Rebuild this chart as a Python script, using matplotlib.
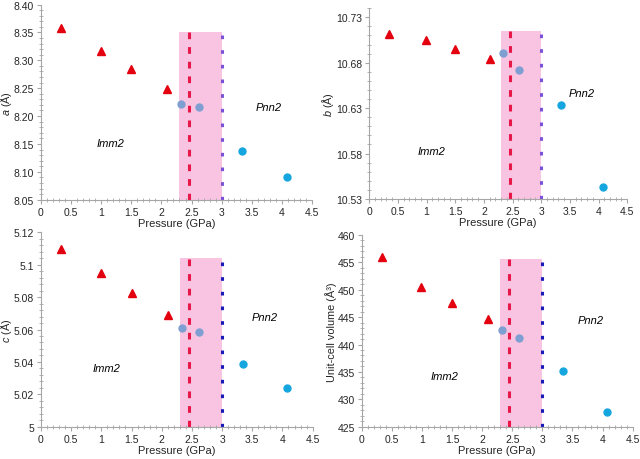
import matplotlib
matplotlib.use("Agg")
import matplotlib.pyplot as plt
from matplotlib.ticker import MultipleLocator, AutoMinorLocator, FormatStrFormatter, FuncFormatter

plt.rcParams['font.family'] = ['Liberation Sans', 'DejaVu Sans']
plt.rcParams['mathtext.fontset'] = 'custom'
plt.rcParams['mathtext.rm'] = 'Liberation Sans'
plt.rcParams['mathtext.it'] = 'Liberation Sans:italic'

# ---- data ----
p_imm = [0.34, 0.99, 1.50, 2.10]
p_mix = [2.33, 2.62]
p_pnn = [3.34, 4.08]

a_imm = [8.357, 8.317, 8.284, 8.249]
a_mix = [8.221, 8.217]
a_pnn = [8.137, 8.091]

b_imm = [10.712, 10.705, 10.695, 10.684]
b_mix = [10.691, 10.672]
b_pnn = [10.633, 10.543]

c_imm = [5.110, 5.0947, 5.0823, 5.069]
c_mix = [5.0607, 5.0583]
c_pnn = [5.0389, 5.0236]

v_imm = [455.9, 450.5, 447.6, 444.6]
v_mix = [442.7, 441.2]
v_pnn = [435.1, 427.7]

span_x = [2.30, 3.00]
line_red_x = 2.45
line_blue_x = 3.00

ylabels = [r"$\it{a}$ (Å)", r"$\it{b}$ (Å)", r"$\it{c}$ (Å)", "Unit-cell volume (Å³)"]
ylims = [(8.05, 8.40), (10.53, 10.74), (5.00, 5.12), (425, 460)]
yticks = [
    [8.05, 8.10, 8.15, 8.20, 8.25, 8.30, 8.35, 8.40],
    [10.53, 10.58, 10.63, 10.68, 10.73],
    [5.00, 5.02, 5.04, 5.06, 5.08, 5.10, 5.12],
    [425, 430, 435, 440, 445, 450, 455, 460],
]
span_tops = [8.35, 10.715, 5.104, 455.7]
imm_pos = [(1.16, 8.151), (1.09, 10.583), (1.09, 5.036), (1.38, 434.3)]
pnn_pos = [(3.78, 8.217), (3.71, 10.647), (3.70, 5.068), (3.80, 444.4)]
blue_cols = ['#7b52d6', '#7b52d6', '#1a1ab8', '#1a1ab8']

xticks = [0, 0.5, 1, 1.5, 2, 2.5, 3, 3.5, 4, 4.5]

fig = plt.figure(figsize=(6.4, 4.6), dpi=100)
rects = [
    [0.064, 0.5637, 0.4235, 0.4243],
    [0.577, 0.5652, 0.403, 0.4148],
    [0.064, 0.0702, 0.4245, 0.4226],
    [0.565, 0.0702, 0.4236, 0.4168],
]
yfmt = [
    FormatStrFormatter('%.2f'),
    FormatStrFormatter('%.2f'),
    FuncFormatter(lambda v, p: ('%.2f' % v).rstrip('0').rstrip('.')),
    FormatStrFormatter('%d'),
]
series = [
    (a_imm, a_mix, a_pnn),
    (b_imm, b_mix, b_pnn),
    (c_imm, c_mix, c_pnn),
    (v_imm, v_mix, v_pnn),
]

for i, r in enumerate(rects):
    ax = fig.add_axes(r)
    yi, ym, yp = series[i]
    lo, hi = ylims[i]
    ax.fill_between(span_x, lo, span_tops[i], color='#f9c4e1', linewidth=0, zorder=1)
    ax.vlines(line_red_x, lo, span_tops[i], colors='#e8174a', linewidth=2.2,
              linestyles=(0, (2.2, 2.6)), zorder=2)
    ax.vlines(line_blue_x, lo, span_tops[i], colors=blue_cols[i], linewidth=2.2,
              linestyles=(0, (1.2, 3.6)), zorder=2)
    ax.plot(p_imm, yi, linestyle='none', marker='^', color='#e3000f', markersize=5.2, zorder=3)
    ax.plot(p_mix, ym, linestyle='none', marker='o', color='#7f9fd2', markersize=5, zorder=3)
    ax.plot(p_pnn, yp, linestyle='none', marker='o', color='#16a6df', markersize=5, zorder=3)
    ax.text(*imm_pos[i], 'Imm2', style='italic', fontsize=8, ha='center', va='center')
    ax.text(*pnn_pos[i], 'Pnn2', style='italic', fontsize=8, ha='center', va='center')

    ax.set_xlim(0, 4.5)
    ax.set_ylim(lo, hi)
    ax.set_xticks(xticks)
    ax.set_xticklabels(['0', '0.5', '1', '1.5', '2', '2.5', '3', '3.5', '4', '4.5'])
    ax.set_yticks(yticks[i])
    ax.yaxis.set_major_formatter(yfmt[i])
    ax.xaxis.set_minor_locator(MultipleLocator(0.1))
    ax.yaxis.set_minor_locator(AutoMinorLocator(5))
    for s in ['top', 'right']:
        ax.spines[s].set_visible(False)
    for s in ['left', 'bottom']:
        ax.spines[s].set_color('#a6a6a6')
        ax.spines[s].set_linewidth(0.8)
    ax.tick_params(which='major', direction='out', length=3, width=0.8, color='#a6a6a6',
                   labelsize=7.5, labelcolor='#262626', pad=2)
    ax.tick_params(which='minor', direction='inout', length=3, width=0.6, color='#a6a6a6')
    ax.set_xlabel('Pressure (GPa)', fontsize=8, color='#262626', labelpad=1)
    ax.set_ylabel(ylabels[i], fontsize=7.8, color='#262626', labelpad=0)
    ax.patch.set_alpha(0)

fig.savefig('out.png', dpi=100)
